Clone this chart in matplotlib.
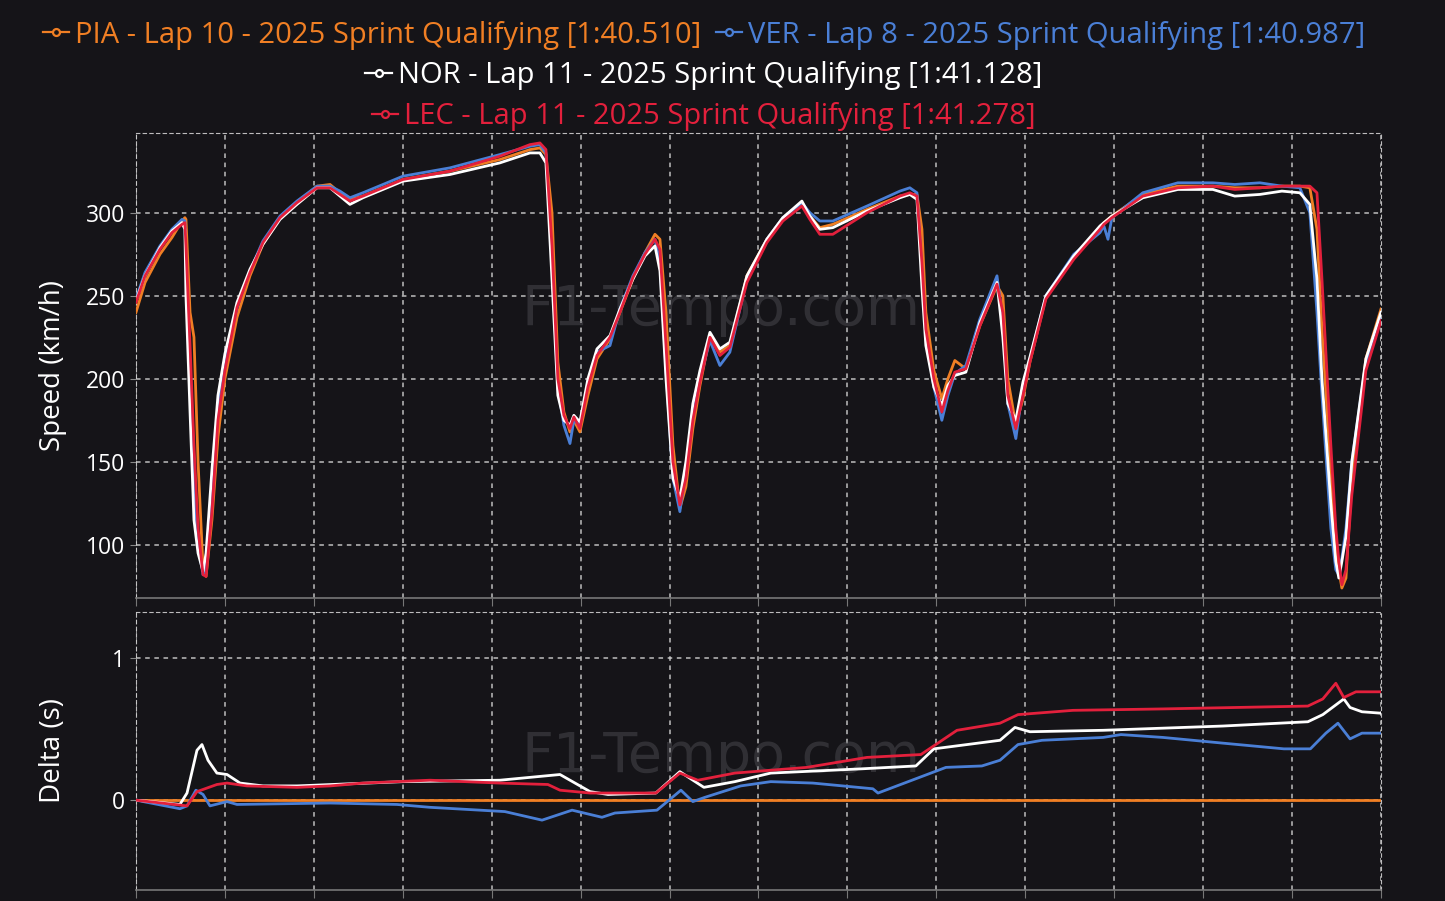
import numpy as np
import matplotlib
matplotlib.use("Agg")
import matplotlib.pyplot as plt
from matplotlib.lines import Line2D

plt.rcParams['font.family'] = ['Open Sans', 'DejaVu Sans']

BG = '#151418'
GRID = '#d0d0d0'

drivers = ['PIA', 'VER', 'NOR', 'LEC']
labels = ['PIA - Lap 10 - 2025 Sprint Qualifying [1:40.510]',
          'VER - Lap 8 - 2025 Sprint Qualifying [1:40.987]',
          'NOR - Lap 11 - 2025 Sprint Qualifying [1:41.128]',
          'LEC - Lap 11 - 2025 Sprint Qualifying [1:41.278]']
colors = ['#f07f24', '#4a7fd6', '#ffffff', '#e3203c']

# distance (m) along the lap, shared by all speed traces
dist = [0, 51, 135, 202, 259, 275, 281, 304, 326, 349, 377, 394, 427, 461, 500,
        568, 641, 714, 810, 905, 1018, 1091, 1147, 1203, 1276, 1501, 1765, 2046,
        2215, 2271, 2305, 2339, 2372, 2406, 2440, 2462, 2496, 2541, 2592, 2665,
        2721, 2794, 2862, 2918, 2946, 2980, 3019, 3058, 3092, 3131, 3171, 3227,
        3283, 3339, 3435, 3547, 3637, 3744, 3789, 3845, 3918, 4110, 4295, 4351,
        4391, 4419, 4441, 4486, 4531, 4565, 4604, 4666, 4745, 4841, 4874, 4902,
        4947, 4987, 5026, 5116, 5273, 5420, 5442, 5465, 5487, 5661, 5858, 6055,
        6178, 6319, 6443, 6544, 6600, 6640, 6668, 6718, 6746, 6763, 6780, 6803,
        6836, 6915, 7000]

speed_pia = [240, 258, 275, 285, 295, 297, 296, 240, 225, 150, 86, 81, 115, 165, 200,
             237, 262, 281, 297, 306, 316, 317, 312, 308, 310, 320, 325, 332,
             338, 339, 335, 300, 210, 180, 168, 175, 168, 190, 212, 224,
             240, 260, 276, 287, 284, 240, 160, 122, 135, 170, 196, 226,
             216, 220, 262, 284, 297, 306, 298, 291, 293, 302, 310, 311,
             311, 290, 240, 205, 188, 200, 211, 206, 232, 256, 250, 200,
             172, 188, 210, 249, 273, 291, 294, 296, 298, 311, 316, 316,
             315, 315, 316, 316, 315, 290, 230, 145, 100, 85, 74, 80,
             140, 212, 242]
speed_ver = [248, 264, 280, 290, 296, 295, 270, 200, 140, 100, 82, 88, 135, 180, 210,
             243, 265, 283, 298, 307, 316, 316, 313, 309, 312, 322, 327, 335,
             340, 341, 336, 270, 195, 172, 161, 175, 172, 197, 216, 220,
             242, 262, 276, 284, 270, 205, 140, 120, 145, 180, 200, 223,
             208, 216, 260, 284, 297, 306, 300, 295, 295, 304, 313, 315,
             312, 265, 225, 195, 175, 190, 203, 208, 236, 262, 235, 185,
             164, 195, 212, 250, 275, 288, 292, 284, 297, 312, 318, 318,
             317, 318, 316, 315, 300, 240, 190, 110, 85, 82, 92, 110,
             150, 210, 238]
speed_nor = [247, 262, 279, 289, 294, 290, 250, 180, 115, 95, 84, 95, 145, 190, 215,
             246, 266, 281, 296, 305, 315, 315, 310, 305, 309, 319, 323, 330,
             336, 336, 330, 260, 190, 175, 172, 178, 174, 200, 218, 226,
             242, 260, 274, 280, 265, 200, 140, 128, 150, 185, 205, 228,
             218, 222, 262, 284, 297, 307, 298, 290, 291, 301, 309, 311,
             308, 255, 220, 195, 184, 196, 202, 204, 234, 258, 225, 185,
             175, 198, 213, 250, 274, 292, 294, 296, 298, 309, 314, 314,
             310, 311, 313, 312, 305, 260, 200, 125, 90, 80, 90, 105,
             150, 212, 240]
speed_lec = [246, 262, 278, 288, 293, 294, 280, 220, 160, 110, 82, 81, 120, 175, 205,
             243, 264, 282, 297, 306, 315, 315, 311, 307, 310, 320, 325, 334,
             341, 342, 338, 280, 200, 178, 170, 177, 170, 195, 214, 225,
             240, 261, 275, 284, 278, 220, 150, 124, 140, 175, 198, 225,
             214, 219, 258, 282, 295, 304, 296, 287, 287, 300, 310, 312,
             310, 270, 230, 200, 180, 193, 204, 206, 232, 257, 240, 190,
             170, 190, 210, 248, 272, 290, 293, 295, 297, 310, 315, 316,
             314, 315, 316, 316, 316, 312, 260, 160, 110, 90, 76, 85,
             130, 205, 235]
speeds = [speed_pia, speed_ver, speed_nor, speed_lec]

# time delta to PIA (s)
delta_pia_d = [0, 7000]
delta_pia = [0, 0]

delta_ver_d = [0, 247, 287, 337, 377, 416, 512, 568, 1091, 1467, 1652, 2074, 2283,
               2452, 2620, 2693, 2929, 3064, 3131, 3199, 3400, 3569, 3805, 4143,
               4172, 4554, 4756, 4858, 4959, 5094, 5437, 5538, 5774, 6111, 6454,
               6603, 6690, 6758, 6826, 6893, 7000]
delta_ver = [0, -0.06, -0.04, 0.07, 0.04, -0.04, -0.01, -0.03, -0.02, -0.03, -0.05,
             -0.08, -0.14, -0.07, -0.12, -0.09, -0.07, 0.07, -0.01, 0.02, 0.10,
             0.13, 0.12, 0.08, 0.05, 0.23, 0.24, 0.28, 0.39, 0.42, 0.44, 0.46,
             0.44, 0.40, 0.36, 0.36, 0.47, 0.54, 0.43, 0.47, 0.47]

delta_nor_d = [0, 247, 287, 343, 371, 405, 455, 512, 585, 714, 905, 1501, 2046,
               2384, 2553, 2654, 2923, 3058, 3193, 3367, 3569, 4082, 4385, 4486,
               4858, 4942, 5026, 5437, 6111, 6589, 6673, 6791, 6826, 6893, 7000]
delta_nor = [0, -0.03, 0.05, 0.35, 0.39, 0.28, 0.19, 0.18, 0.12, 0.10, 0.10, 0.13,
             0.14, 0.18, 0.06, 0.04, 0.05, 0.20, 0.09, 0.13, 0.19, 0.22, 0.24,
             0.36, 0.42, 0.51, 0.48, 0.49, 0.52, 0.55, 0.60, 0.71, 0.65, 0.62, 0.61]

delta_lec_d = [0, 287, 343, 455, 512, 624, 905, 1091, 1276, 1653, 2046, 2316,
               2384, 2553, 2923, 3058, 3159, 3367, 3772, 4110, 4413, 4616, 4858,
               4959, 5268, 5774, 6589, 6673, 6746, 6791, 6859, 7000]
delta_lec = [0, -0.04, 0.06, 0.11, 0.12, 0.10, 0.09, 0.10, 0.12, 0.14, 0.12, 0.11,
             0.07, 0.05, 0.05, 0.19, 0.14, 0.19, 0.23, 0.30, 0.32, 0.49, 0.54,
             0.60, 0.63, 0.64, 0.66, 0.71, 0.82, 0.72, 0.76, 0.76]

delta_d = [delta_pia_d, delta_ver_d, delta_nor_d, delta_lec_d]
deltas = [delta_pia, delta_ver, delta_nor, delta_lec]

fig = plt.figure(figsize=(14.45, 9.01), dpi=100, facecolor=BG)
ax1 = fig.add_axes([0.0941, 0.3363, 0.8616, 0.5161], facecolor=BG)
ax2 = fig.add_axes([0.0941, 0.0122, 0.8616, 0.3086], facecolor=BG)

for c, s in zip(colors, speeds):
    ax1.plot(dist, s, color=c, lw=2, zorder=3)
for c, dd, dl in zip(colors, delta_d, deltas):
    ax2.plot(dd, dl, color=c, lw=2, zorder=3)

ax1.set_ylim(68, 348)
ax1.set_yticks([100, 150, 200, 250, 300])
ax2.set_ylim(-0.63, 1.32)
ax2.set_yticks([0, 1])
ax1.set_ylabel('Speed (km/h)', color='white', fontsize=20)
ax2.set_ylabel('Delta (s)', color='white', fontsize=20)
ax1.yaxis.set_label_coords(-0.055, 0.5)
ax2.yaxis.set_label_coords(-0.055, 0.5)

for ax in (ax1, ax2):
    ax.set_xlim(0, 7000)
    ax.set_xticks(np.arange(0, 7001, 500))
    ax.set_xticklabels([])
    ax.grid(True, color=GRID, ls=(0, (3, 3)), lw=1.1, alpha=0.9, zorder=1)
    ax.tick_params(axis='y', colors='white', labelsize=16.5, length=4, pad=4,
                   color='#888888')
    ax.tick_params(axis='x', length=6, color='#777777')
    for side in ('top', 'left', 'right'):
        ax.spines[side].set_color(GRID)
        ax.spines[side].set_linestyle((0, (3, 3)))
        ax.spines[side].set_alpha(0.9)
    ax.spines['bottom'].set_color('#777777')
    ax.spines['bottom'].set_linewidth(1.2)

# watermark
ax1.text(0.47, 0.62, 'F1-Tempo.com', transform=ax1.transAxes, ha='center', va='center',
         fontsize=40, color='#5a5a60', alpha=0.4, zorder=2, family='DejaVu Sans')
ax2.text(0.47, 0.48, 'F1-Tempo.com', transform=ax2.transAxes, ha='center', va='center',
         fontsize=40, color='#5a5a60', alpha=0.4, zorder=2, family='DejaVu Sans')


def handle(c):
    return Line2D([], [], color=c, lw=1.6, marker='o', markersize=5,
                  markerfacecolor=BG, markeredgecolor=c, markeredgewidth=1.6)


rows = [([0, 1], 0.961), ([2], 0.916), ([3], 0.871)]
for idx, y in rows:
    lg = fig.legend([handle(colors[i]) for i in idx], [labels[i] for i in idx],
                    loc='center', bbox_to_anchor=(0.487, y), ncol=len(idx),
                    frameon=False, fontsize=21, handlelength=0.9, handletextpad=0.2,
                    columnspacing=0.5, borderpad=0, borderaxespad=0)
    for t, i in zip(lg.get_texts(), idx):
        t.set_color(colors[i])

fig.savefig('out.png', dpi=100, facecolor=BG)
